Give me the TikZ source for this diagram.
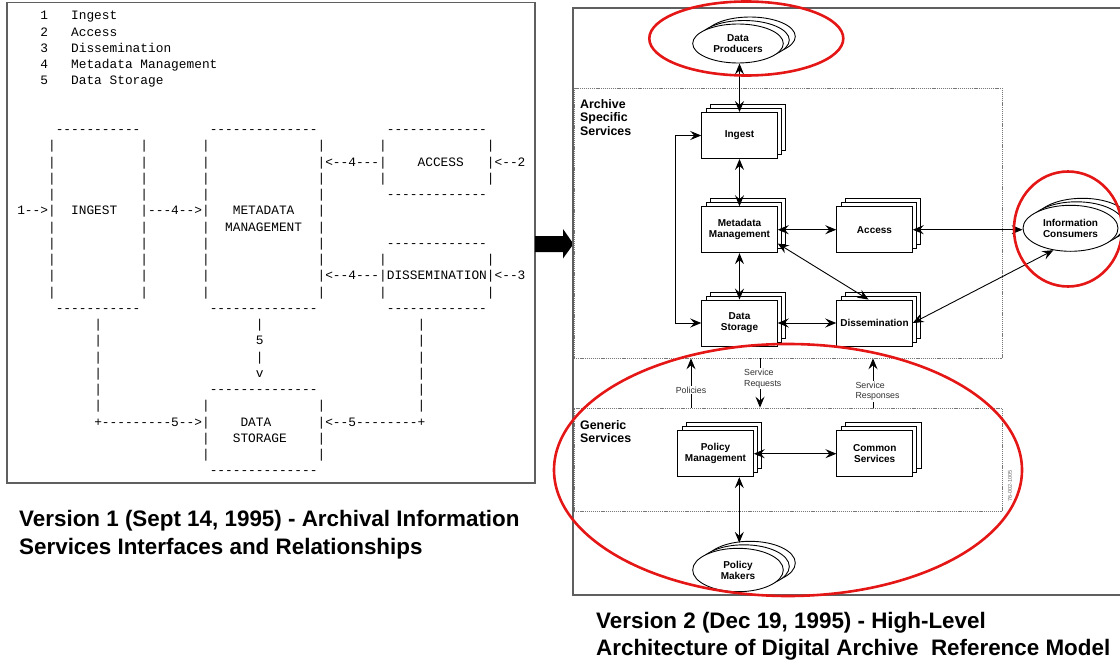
\documentclass[tikz,border=0pt]{standalone}
\usepackage{fontspec}
\setmainfont{Liberation Sans}
\setmonofont{Liberation Mono}
\usetikzlibrary{shapes.geometric,shadows,arrows.meta,calc}
\definecolor{ringred}{RGB}{228,22,22}
\definecolor{framegray}{RGB}{95,95,95}
\definecolor{dotgray}{RGB}{120,120,120}
\definecolor{labelgray}{RGB}{50,50,50}

\begin{document}
\begin{tikzpicture}[x=1pt,y=-1pt,
  ascii/.style={font=\ttfamily\fontsize{12.83}{14}\selectfont, inner sep=0pt, anchor=base west},
  stackbox/.style={draw, fill=white, line width=0.9pt, minimum width=75.6pt, minimum height=46pt,
    inner sep=0pt, align=center, font=\bfseries\fontsize{10}{11}\selectfont,
    double copy shadow={shadow xshift=4.3pt, shadow yshift=4pt, draw=black, fill=white}},
  stackell/.style={ellipse, draw, fill=white, line width=0.9pt, inner sep=0pt, align=center,
    font=\bfseries\fontsize{10}{11}\selectfont,
    double copy shadow={shadow xshift=6pt, shadow yshift=3.5pt, draw=black, fill=white}},
  groupbox/.style={draw=dotgray, line width=0.6pt, dash pattern=on 1.2pt off 0.9pt, inner sep=0pt},
  grouplabel/.style={font=\bfseries\fontsize{12.4}{13.3}\selectfont, align=left, inner sep=0pt, anchor=north west},
  flowlabel/.style={font=\fontsize{8.8}{10.5}\selectfont, text=labelgray, align=left, inner sep=1pt, fill=white},
  link/.style={line width=0.9pt, arrows={Stealth[length=11pt,width=9pt,inset=4pt]-Stealth[length=11pt,width=9pt,inset=4pt]}},
  oneway/.style={line width=0.9pt, -{Stealth[length=11pt,width=9pt,inset=4pt]}},
  ring/.style={draw=ringred, line width=2.6pt},
  caption/.style={font=\bfseries\fontsize{22.4}{27.5}\selectfont, align=left, inner sep=0pt, anchor=north west},
]
\useasboundingbox (0,0) rectangle (1120,661);

% ---------------- Version 1: ASCII sketch ----------------
\draw[draw=framegray, line width=1.5pt] (7,2.5) rectangle (535,483);

\begin{scope}[shift={(1.65,19.8)},x=7.7pt,y=-16.25pt]
  % legend
  \foreach \k/\lbl [count=\r from 0] in {1/Ingest,2/Access,3/Dissemination,4/Metadata Management,5/Data Storage} {
    \node[ascii] (num\k) at (5,\r) {\k};
    \node[ascii] (key\k) at (9,\r) {\lbl};
  }
  % INGEST
  \node[ascii] (ingtop) at (7,7) {-----------};
  \node[ascii] (ingbot) at (7,18) {-----------};
  \foreach \r in {8,...,17} {
    \node[ascii] (ingl\r) at (6,\r) {|};
    \node[ascii] (ingr\r) at (18,\r) {|};
  }
  \node[ascii] (ingtxt) at (9,12) {INGEST};
  \node[ascii] (in1) at (2,12) {1-->};
  \node[ascii] (ing2meta) at (19,12) {---4-->};
  % METADATA MANAGEMENT
  \node[ascii] (metatop) at (27,7) {--------------};
  \node[ascii] (metabot) at (27,18) {--------------};
  \foreach \r in {8,...,17} {
    \node[ascii] (metal\r) at (26,\r) {|};
    \node[ascii] (metar\r) at (41,\r) {|};
  }
  \node[ascii] (metatxta) at (30,12) {METADATA};
  \node[ascii] (metatxtb) at (29,13) {MANAGEMENT};
  \node[ascii] (acc2meta) at (42,9) {<--4---};
  \node[ascii] (dis2meta) at (42,16) {<--4---};
  % ACCESS
  \node[ascii] (acctop) at (50,7) {-------------};
  \node[ascii] (accbot) at (50,11) {-------------};
  \foreach \r in {8,9,10} {
    \node[ascii] (accl\r) at (49,\r) {|};
    \node[ascii] (accr\r) at (63,\r) {|};
  }
  \node[ascii] (acctxt) at (54,9) {ACCESS};
  \node[ascii] (in2) at (64,9) {<--2};
  % DISSEMINATION
  \node[ascii] (distop) at (50,14) {-------------};
  \node[ascii] (disbot) at (50,18) {-------------};
  \foreach \r in {15,16,17} {
    \node[ascii] (disl\r) at (49,\r) {|};
    \node[ascii] (disr\r) at (63,\r) {|};
  }
  \node[ascii] (distxt) at (50,16) {DISSEMINATION};
  \node[ascii] (in3) at (64,16) {<--3};
  % links down to storage
  \foreach \r in {19,...,24} {
    \node[ascii] (ingdown\r) at (12,\r) {|};
    \node[ascii] (disdown\r) at (54,\r) {|};
  }
  \node[ascii] (mdowna) at (33,19) {|};
  \node[ascii] (mdownb) at (33,20) {5};
  \node[ascii] (mdownc) at (33,21) {|};
  \node[ascii] (mdownd) at (33,22) {v};
  % DATA STORAGE
  \node[ascii] (dstop) at (27,23) {--------------};
  \node[ascii] (dsbot) at (27,28) {--------------};
  \foreach \r in {24,...,27} {
    \node[ascii] (dsl\r) at (26,\r) {|};
    \node[ascii] (dsr\r) at (41,\r) {|};
  }
  \node[ascii] (dstxta) at (31,25) {DATA};
  \node[ascii] (dstxtb) at (30,26) {STORAGE};
  \node[ascii] (ing2ds) at (12,25) {+---------5-->};
  \node[ascii] (dis2ds) at (42,25) {<--5--------+};
\end{scope}

\node[caption] (capone) at (19,510.5) {Version 1 (Sept 14, 1995) - Archival Information\\Services Interfaces and Relationships};

% block arrow between the two versions
\fill (535,236) -- (563,236) -- (563,229) -- (573.5,244) -- (563,258.5) -- (563,252) -- (535,252) -- cycle;

% ---------------- Version 2: reference model ----------------
\draw[draw=framegray, line width=1.3pt] (573,8) rectangle (1135,595);

\node[groupbox, minimum width=428pt, minimum height=270pt] (archive) at (788,223) {};
\node[groupbox, minimum width=428pt, minimum height=103pt] (generic) at (788,459.5) {};
\node[grouplabel] (archivelbl) at (580,99.5) {Archive\\Specific\\Services};
\node[grouplabel] (genericlbl) at (580,420.5) {Generic\\Services};

\node[stackbox] (ingest) at (739.5,135.5) {Ingest};
\node[stackbox] (meta) at (739.5,229.7) {Metadata\\Management};
\node[stackbox] (access) at (874.5,229.7) {Access};
\node[stackbox] (store) at (739.5,323) {Data\\Storage};
\node[stackbox] (dissem) at (874.5,323) {Dissemination};
\node[stackbox] (polman) at (715.5,453.7) {Policy\\Management};
\node[stackbox] (common) at (874.7,453.7) {Common\\Services};

\node[stackell, minimum width=90.6pt, minimum height=39pt] (producers) at (738,43.5) {Data\\Producers};
\node[stackell, minimum width=95pt, minimum height=46pt] (consumers) at (1070.5,228.3) {Information\\Consumers};
\node[stackell, minimum width=90.6pt, minimum height=43.4pt] (makers) at (738,570) {Policy\\Makers};

\draw[link] (ingest.north) -- (ingest.north |- producers.south);
\draw[link] (ingest.south) -- (meta.north);
\draw[link] (meta.south) -- (store.north);
\draw[link] (meta.east) -- (access.west);
\draw[link] (access.east) -- (access.east -| consumers.west);
\draw[link] ($(meta.east)!0.59!(meta.south east)$) -- ($(dissem.north)+(-6,0)$);
\draw[link] (store.east) -- (dissem.west);
\draw[link] (dissem.east) -- (consumers.-128);
\draw[link] (ingest.west) -- ++(-26,0) |- (store.west);

\coordinate (polx) at (691,0);
\coordinate (reqx) at (760,0);
\coordinate (resx) at (873,0);
\draw[oneway] (generic.north -| polx) -- (archive.south -| polx);
\draw[oneway] (archive.south -| reqx) -- (generic.north -| reqx);
\draw[oneway] (generic.north -| resx) -- (archive.south -| resx);
\node[flowlabel] (policies) at (691,390) {Policies};
\node[flowlabel, anchor=west] (requests) at (743,378.5) {Service\\Requests};
\node[flowlabel, anchor=west] (responses) at (854.3,391.2) {Service\\Responses};

\draw[link] (polman.east) -- (common.west);
\draw[link] ($(polman.south)+(23.8,0)$) -- ($(makers.north)+(1.3,-5)$);

\node[rotate=90, font=\fontsize{5.5}{6}\selectfont, text=black!60, inner sep=0pt] (docid) at (1010,486) {76-002-1005};

% red highlight rings
\draw[ring] (746.3,38.5) ellipse [x radius=97pt, y radius=37pt];
\draw[ring] (1068,229) ellipse [x radius=54pt, y radius=57.5pt];
\draw[ring] (788,470) ellipse [x radius=234pt, y radius=126pt];

\node[caption] (captwo) at (596,612) {Version 2 (Dec 19, 1995) - High-Level\\Architecture of Digital Archive~ Reference Model};
\end{tikzpicture}
\end{document}
